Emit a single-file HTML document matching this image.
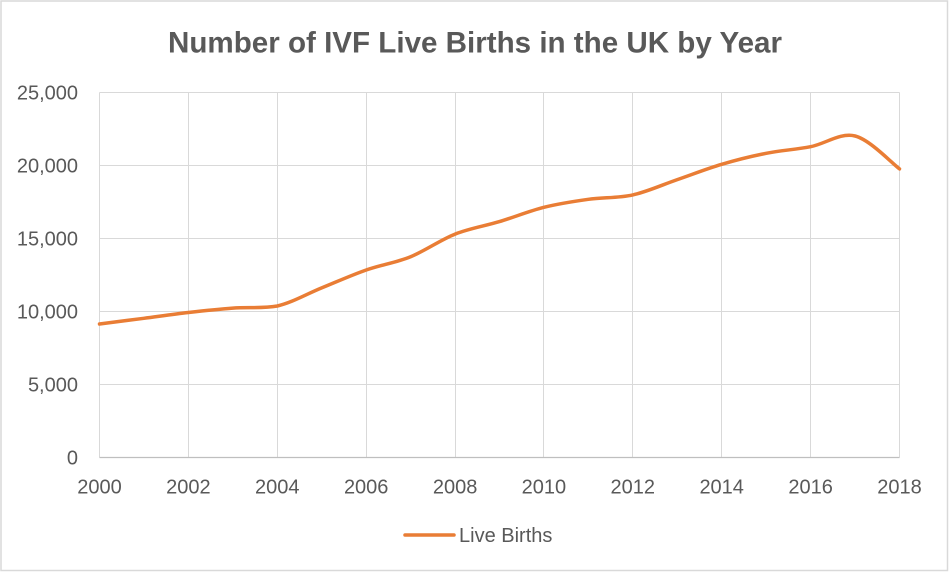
<!DOCTYPE html>
<html>
<head>
<meta charset="utf-8">
<style>
  html, body { margin: 0; padding: 0; background: #ffffff; }
  body { width: 950px; height: 572px; overflow: hidden; }
  svg { display: block; }
  text { font-family: "Liberation Sans", sans-serif; fill: #595959; }
</style>
</head>
<body>
<svg width="950" height="572" viewBox="0 0 950 572" xmlns="http://www.w3.org/2000/svg">
  <rect x="0" y="0" width="950" height="572" fill="#ffffff"/>
  <!-- outer border -->
  <rect x="1" y="1" width="946.5" height="569.5" fill="none" stroke="#d9d9d9" stroke-width="1.5"/>

  <!-- title -->
  <text x="168" y="52.5" font-size="30" font-weight="bold" textLength="614" lengthAdjust="spacingAndGlyphs">Number of IVF Live Births in the UK by Year</text>

  <!-- horizontal gridlines -->
  <g stroke="#d9d9d9" stroke-width="1">
    <line x1="99.5" y1="92.5" x2="899.5" y2="92.5"/>
    <line x1="99.5" y1="165.5" x2="899.5" y2="165.5"/>
    <line x1="99.5" y1="238.5" x2="899.5" y2="238.5"/>
    <line x1="99.5" y1="311.5" x2="899.5" y2="311.5"/>
    <line x1="99.5" y1="384.5" x2="899.5" y2="384.5"/>
  </g>
  <!-- vertical gridlines -->
  <g stroke="#d9d9d9" stroke-width="1">
    <line x1="99.5" y1="92.5" x2="99.5" y2="457.5"/>
    <line x1="188.5" y1="92.5" x2="188.5" y2="457.5"/>
    <line x1="277.5" y1="92.5" x2="277.5" y2="457.5"/>
    <line x1="366.5" y1="92.5" x2="366.5" y2="457.5"/>
    <line x1="455.5" y1="92.5" x2="455.5" y2="457.5"/>
    <line x1="543.5" y1="92.5" x2="543.5" y2="457.5"/>
    <line x1="632.5" y1="92.5" x2="632.5" y2="457.5"/>
    <line x1="721.5" y1="92.5" x2="721.5" y2="457.5"/>
    <line x1="810.5" y1="92.5" x2="810.5" y2="457.5"/>
    <line x1="899.5" y1="92.5" x2="899.5" y2="457.5"/>
  </g>
  <!-- x axis line -->
  <line x1="99.5" y1="457.5" x2="899.5" y2="457.5" stroke="#bfbfbf" stroke-width="1.2"/>

  <!-- y tick labels -->
  <g font-size="20" text-anchor="end">
    <text x="78" y="99.5">25,000</text>
    <text x="78" y="172.5">20,000</text>
    <text x="78" y="245.5">15,000</text>
    <text x="78" y="318.5">10,000</text>
    <text x="78" y="391.5">5,000</text>
    <text x="78" y="464.5">0</text>
  </g>

  <!-- x tick labels -->
  <g font-size="20" text-anchor="middle">
    <text x="99.5" y="493.5">2000</text>
    <text x="188.4" y="493.5">2002</text>
    <text x="277.3" y="493.5">2004</text>
    <text x="366.2" y="493.5">2006</text>
    <text x="455.1" y="493.5">2008</text>
    <text x="543.9" y="493.5">2010</text>
    <text x="632.8" y="493.5">2012</text>
    <text x="721.7" y="493.5">2014</text>
    <text x="810.6" y="493.5">2016</text>
    <text x="899.5" y="493.5">2018</text>
  </g>

  <!-- series -->
  <path fill="none" stroke="#E97D35" stroke-width="3.5" stroke-linecap="round" stroke-linejoin="round"
    d="M99.5,324 C106.9,323.05 129.1,320.22 143.9,318.3
       C158.7,316.38 173.6,314.2 188.4,312.5
       C203.2,310.8 218.0,309.18 232.8,308.1
       C247.6,307.02 262.5,308.6 277.3,306.0
       C292.1,302.63 306.9,293.9 321.7,287.9
       C336.5,281.9 351.4,275.2 366.2,270.0
       C381.0,264.8 395.8,262.68 410.6,256.7
       C425.4,250.72 440.3,239.95 455.1,234.1
       C469.9,228.25 484.7,226.07 499.5,221.6
       C514.3,217.13 529.1,211.02 543.9,207.3
       C558.7,203.58 573.6,201.37 588.4,199.3
       C603.2,197.23 618.0,198.18 632.8,194.9
       C647.6,191.62 662.5,184.7 677.3,179.6
       C692.1,174.5 706.9,168.68 721.7,164.3
       C736.5,159.92 751.4,156.23 766.2,153.3
       C781.0,150.37 795.8,149.58 810.6,146.7
       C825.4,143.82 840.3,132.3 855.1,136.0
       C869.9,139.7 892.1,163.42 899.5,168.9"/>

  <!-- legend -->
  <line x1="405" y1="535" x2="454" y2="535" stroke="#E97D35" stroke-width="3.5" stroke-linecap="round"/>
  <text x="459" y="542" font-size="20">Live Births</text>
</svg>
</body>
</html>
